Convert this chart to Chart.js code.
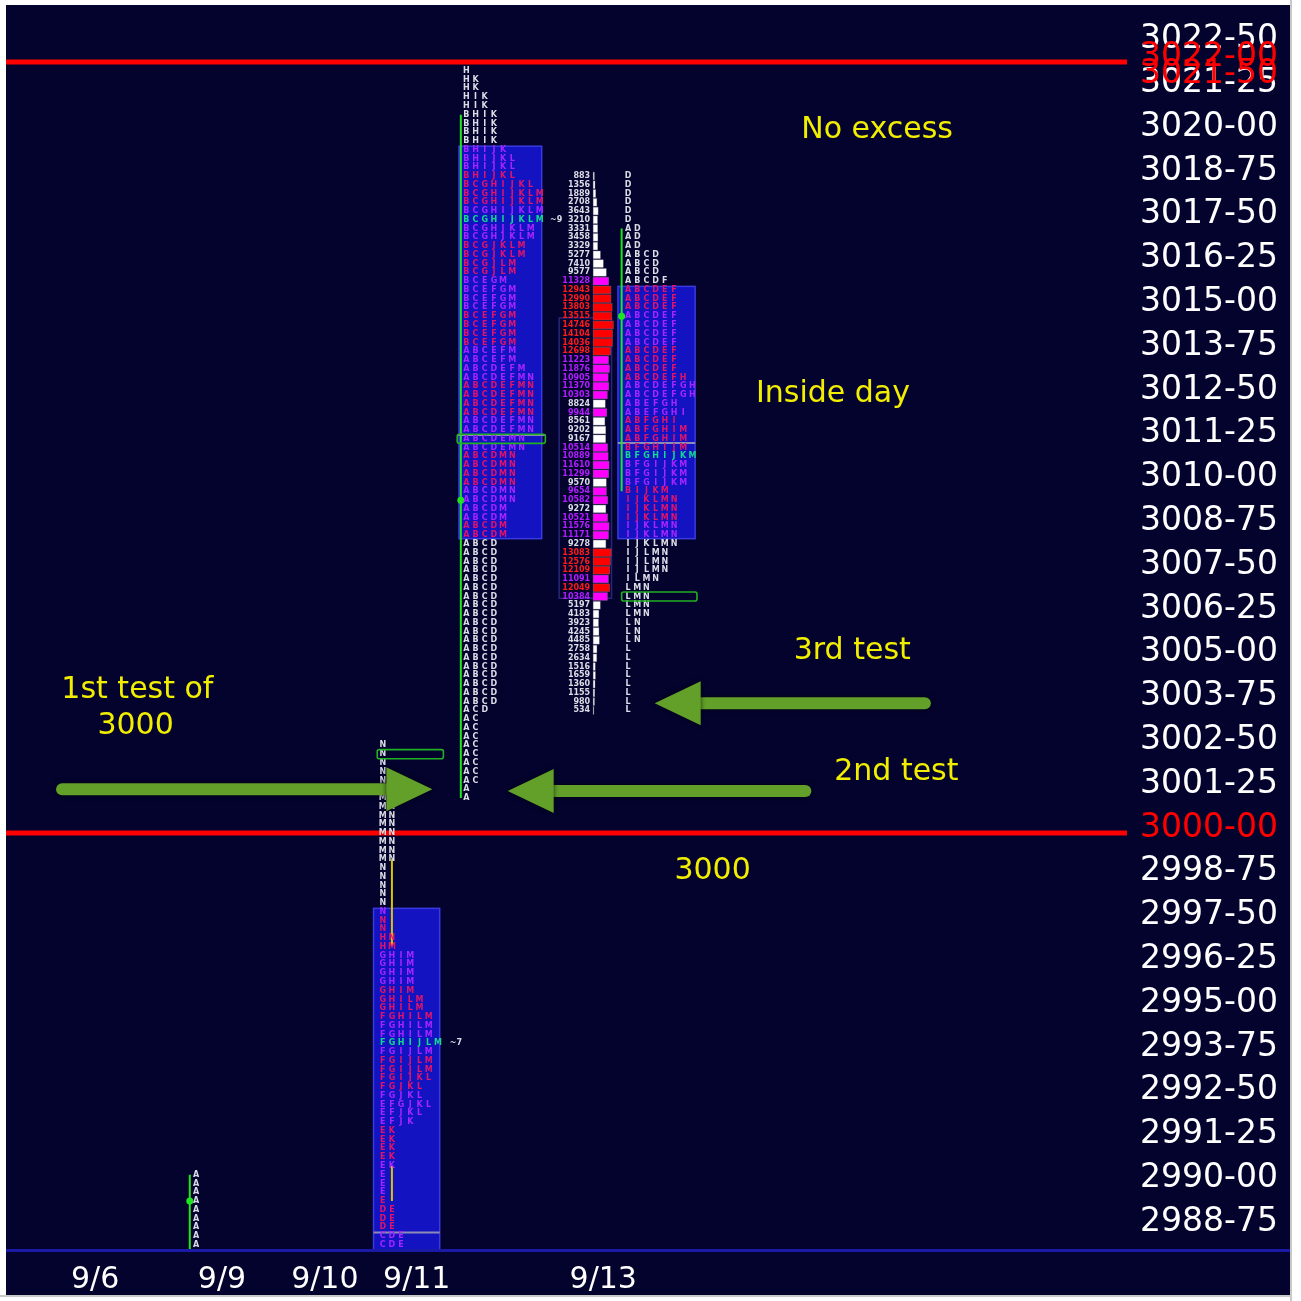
<!DOCTYPE html>
<html lang="en">
<head>
<meta charset="UTF-8">
<title>Market Profile - tests of 3000</title>
<script src="https://cdn.jsdelivr.net/npm/chart.js"></script>
<style>
  body { margin: 0; background: #ffffff; }
  #wrap { position: absolute; left: 6px; top: 5px; width: 1284px; height: 1290px; background: #03032e; }
  #edgeR { position: absolute; left: 1290px; top: 0; width: 2px; height: 1301px; background: #c8c8c8; }
  #edgeB { position: absolute; left: 0; top: 1295px; width: 1292px; height: 2px; background: #c8c8c8; }
</style>
</head>
<body>
<div id="wrap"><canvas id="mp" width="1284" height="1290"></canvas></div>
<div id="edgeR"></div>
<div id="edgeB"></div>
<script>
// axis ranges (x = TPO column units, y = price)
const xMin = 0, xMax = 122;
const yMin = 2988.1, yMax = 3023.63;

const priceTicks = [3022.5, 3021.25, 3020, 3018.75, 3017.5, 3016.25, 3015, 3013.75, 3012.5, 3011.25,
  3010, 3008.75, 3007.5, 3006.25, 3005, 3003.75, 3002.5, 3001.25, 3000, 2998.75, 2997.5, 2996.25,
  2995, 2993.75, 2992.5, 2991.25, 2990, 2988.75];
const extraRedTicks = [3022, 3021.5];
const keyLevels = [3022, 3000];

const dayLabels = ['9/6', '9/9', '9/10', '9/11', '9/13'];
const dayTickPos = [9.7, 23.5, 34.7, 44.7, 65.0];

// TPO rows, top row first, one row per 0.25
const tpoRows0909 = ['A', 'A', 'A', 'A', 'A', 'A', 'A', 'A', 'A'];

const tpoRows0911 = ['N', 'N', 'N', 'N', 'N', 'N', 'M', 'MN', 'MN', 'MN', 'MN', 'MN', 'MN', 'MN',
  'N', 'N', 'N', 'N', 'N', 'N', 'N', 'N', 'HN', 'HM',
  'GHIM', 'GHIM', 'GHIM', 'GHIM', 'GHIM', 'GHILM', 'GHILM', 'FGHILM', 'FGHILM', 'FGHILM',
  'FGHIJLM', 'FGIJLM', 'FGIJLM', 'FGIJLM', 'FGIJKL', 'FGJKL', 'FGJKL', 'EFGJKL', 'EFJKL', 'EFJK',
  'EK', 'EK', 'EK', 'EK', 'EK', 'E', 'E', 'E', 'E', 'DE', 'DE', 'DE', 'CDE', 'CDE'];

const tpoRows0912 = ['H', 'HK', 'HK', 'HIK', 'HIK', 'BHIK', 'BHIK', 'BHIK', 'BHIK',
  'BHIJK', 'BHIJKL', 'BHIJKL', 'BHIJKL', 'BCGHIJKL', 'BCGHIJKLM', 'BCGHIJKLM', 'BCGHIJKLM', 'BCGHIJKLM',
  'BCGHJKLM', 'BCGHJKLM', 'BCGJKLM', 'BCGJKLM', 'BCGJLM', 'BCGJLM', 'BCEGM',
  'BCEFGM', 'BCEFGM', 'BCEFGM', 'BCEFGM', 'BCEFGM', 'BCEFGM', 'BCEFGM',
  'ABCEFM', 'ABCEFM', 'ABCDEFM',
  'ABCDEFMN', 'ABCDEFMN', 'ABCDEFMN', 'ABCDEFMN', 'ABCDEFMN', 'ABCDEFMN', 'ABCDEFMN',
  'ABCDEMN', 'ABCDEMN', 'ABCDMN', 'ABCDMN', 'ABCDMN', 'ABCDMN', 'ABCDMN', 'ABCDMN',
  'ABCDM', 'ABCDM', 'ABCDM', 'ABCDM',
  'ABCD', 'ABCD', 'ABCD', 'ABCD', 'ABCD', 'ABCD', 'ABCD', 'ABCD', 'ABCD', 'ABCD',
  'ABCD', 'ABCD', 'ABCD', 'ABCD', 'ABCD', 'ABCD', 'ABCD', 'ABCD', 'ABCD',
  'ACD', 'AC', 'AC', 'AC', 'AC', 'AC', 'AC', 'AC', 'AC', 'A', 'A'];

const tpoRows0913 = ['D', 'D', 'D', 'D', 'D', 'D', 'AD', 'AD', 'AD', 'ABCD', 'ABCD', 'ABCD', 'ABCDF',
  'ABCDEF', 'ABCDEF', 'ABCDEF', 'ABCDEF', 'ABCDEF', 'ABCDEF', 'ABCDEF', 'ABCDEF', 'ABCDEF', 'ABCDEF',
  'ABCDEFH', 'ABCDEFGH', 'ABCDEFGH', 'ABEFGH', 'ABEFGHI', 'ABFGHI', 'ABFGHIM', 'ABFGHIM',
  'BFGHIJM', 'BFGHIJKM', 'BFGIJKM', 'BFGIJKM', 'BFGIJKM', 'BIJKM',
  'IJKLMN', 'IJKLMN', 'IJKLMN', 'IJKLMN', 'IJKLMN', 'IJKLMN', 'IJLMN', 'IJLMN', 'IJLMN', 'ILMN',
  'LMN', 'LMN', 'LMN', 'LMN', 'LN', 'LN', 'LN', 'L', 'L', 'L', 'L', 'L', 'L', 'L', 'L'];

const volume0913 = [883, 1356, 1889, 2708, 3643, 3210, 3331, 3458, 3329, 5277, 7410, 9577,
  11328, 12943, 12990, 13803, 13515, 14746, 14104, 14036, 12698, 11223, 11876, 10905, 11370, 10303,
  8824, 9944, 8561, 9202, 9167, 10514, 10889, 11610, 11299, 9570, 9654, 10582, 9272, 10521, 11576,
  11171, 9278, 13083, 12576, 12109, 11091, 12049, 10384, 5197, 4183, 3923, 4245, 4485, 2758, 2634,
  1516, 1659, 1360, 1155, 980, 534];
const volumeTop = 3018.75;
const volumeCol = 63.9;

const profileRows = [tpoRows0909, tpoRows0911, tpoRows0912, tpoRows0913];
const profileTop = [2990.25, 3002.5, 3021.75, 3018.75];
const profileCol = [20.7, 41.0, 50.1, 67.7];
const vaHigh = [null, 2997.75, 3019.5, 3015.5];
const vaLow = [null, 2987.75, 3008.5, 3008.5];
const vaLeft = [null, 40.0, 49.3, 66.6];
const vaRight = [null, 47.2, 58.3, 75.0];
const pocPrice = [null, 2994.0, 3017.5, 3010.75];

// initial balance lines and their midpoints
const ibCol = [20.0, 49.5, 67.0];
const ibHigh = [2990.25, 3020.5, 3017.25];
const ibLow = [2988.0, 3001.0, 3009.75];
const ibMid = [2989.5, 3009.5, 3014.75];

// single prints 9/11
const spCol = [42.0, 42.0];
const spHigh = [2999.25, 2990.5];
const spLow = [2996.75, 2989.5];

// highlighted rows, mid lines, counts
const hlLeft = [40.4, 49.1, 67.0];
const hlRight = [47.6, 58.7, 75.2];
const hlPrice = [3002.25, 3011.25, 3006.75];
const midLeft = [40.0, 49.1, 66.6];
const midRight = [47.2, 58.7, 75.0];
const midPrice = [2988.6, 3011.36, 3011.13];
const countText = ['~7', '~9'];
const countCol = [48.3, 59.2];
const countPrice = [2994.0, 3017.5];
const volBoxLeft = 60.2, volBoxRight = 65.9, volBoxHigh = 3014.7, volBoxLow = 3006.7;

// arrows and notes
const arrowFrom = [6.1, 87.0, 100.0];
const arrowTo = [46.4, 54.6, 70.6];
const arrowPrice = [3001.25, 3001.2, 3003.7];
const noteText = ['No excess', 'Inside day', '3rd test', '2nd test', '1st test of', '3000', '3000'];
const noteCol = [94.8, 90.0, 92.1, 96.9, 14.3, 14.1, 76.9];
const notePrice = [3020.15, 3012.6, 3005.28, 3001.83, 3004.17, 3003.14, 2999.0];

const FONT = '"DejaVu Sans", Verdana, sans-serif';

function fmtPrice(v) {
  const whole = Math.floor(v + 1e-6);
  const frac = Math.round((v - whole) * 100);
  return whole + '-' + String(frac).padStart(2, '0');
}

function letterColor(p, i, price) {
  if (pocPrice[p] !== null && Math.abs(price - pocPrice[p]) < 0.01) return '#12d890';
  if (vaHigh[p] !== null && price <= vaHigh[p] + 0.01 && price >= vaLow[p] - 0.01) {
    return Math.floor(i / 4) % 2 ? '#e0146a' : '#a524ff';
  }
  return '#dcdce6';
}

function volColor(v) {
  if (v >= 12000) return '#ff0000';
  if (v >= 9600) return '#ff00ff';
  return '#ffffff';
}

const profilePlugin = {
  id: 'profiles',
  beforeDatasetsDraw(chart) {
    const { ctx, chartArea: a, scales: { x, y } } = chart;
    ctx.save();
    ctx.beginPath(); ctx.rect(a.left, a.top, a.right - a.left, a.bottom - a.top); ctx.clip();
    // value areas
    for (let p = 0; p < profileRows.length; p++) {
      if (vaHigh[p] === null) continue;
      const x0 = x.getPixelForValue(vaLeft[p]), x1 = x.getPixelForValue(vaRight[p]);
      const y0 = y.getPixelForValue(vaHigh[p] + 0.1), y1 = y.getPixelForValue(vaLow[p] - 0.1);
      ctx.fillStyle = '#1313c2';
      ctx.fillRect(x0, y0, x1 - x0, y1 - y0);
      ctx.strokeStyle = '#3a3ae0';
      ctx.lineWidth = 1.5;
      ctx.strokeRect(x0, y0, x1 - x0, y1 - y0);
    }
    // volume box outline
    const bx0 = x.getPixelForValue(volBoxLeft), bx1 = x.getPixelForValue(volBoxRight);
    const by0 = y.getPixelForValue(volBoxHigh), by1 = y.getPixelForValue(volBoxLow);
    ctx.strokeStyle = '#26267a';
    ctx.lineWidth = 1.5;
    ctx.strokeRect(bx0, by0, bx1 - bx0, by1 - by0);
    // mid lines
    ctx.strokeStyle = '#8c8cb4';
    ctx.lineWidth = 2;
    midPrice.forEach((pr, i) => {
      const yy = y.getPixelForValue(pr);
      ctx.beginPath();
      ctx.moveTo(x.getPixelForValue(midLeft[i]), yy);
      ctx.lineTo(x.getPixelForValue(midRight[i]), yy);
      ctx.stroke();
    });
    ctx.restore();
  },
  afterDatasetsDraw(chart) {
    const { ctx, chartArea: a, scales: { x, y } } = chart;
    ctx.save();
    ctx.beginPath(); ctx.rect(a.left, a.top, a.right - a.left, a.bottom - a.top); ctx.clip();

    // TPO letters
    ctx.font = 'bold 8px ' + FONT;
    ctx.textAlign = 'center';
    ctx.textBaseline = 'middle';
    profileRows.forEach((rows, p) => {
      rows.forEach((row, i) => {
        const price = profileTop[p] - 0.25 * i;
        const yy = y.getPixelForValue(price);
        ctx.fillStyle = letterColor(p, i, price);
        for (let j = 0; j < row.length; j++) {
          ctx.fillText(row[j], x.getPixelForValue(profileCol[p] + j), yy);
        }
      });
    });

    // volume profile 9/13
    const base = x.getPixelForValue(volumeCol);
    const unit = x.getPixelForValue(volumeCol + 2.2) - base;
    volume0913.forEach((v, i) => {
      const price = volumeTop - 0.25 * i;
      const yTop = y.getPixelForValue(price + 0.11), yBot = y.getPixelForValue(price - 0.11);
      const col = volColor(v);
      ctx.fillStyle = col;
      ctx.fillRect(base, yTop, unit * v / 14746, yBot - yTop);
      ctx.strokeStyle = 'rgba(120,120,140,0.6)';
      ctx.lineWidth = 0.6;
      ctx.strokeRect(base, yTop, unit * v / 14746, yBot - yTop);
      ctx.textAlign = 'right';
      ctx.fillStyle = col === '#ffffff' ? '#dcdce6' : (col === '#ff0000' ? '#ff1a1a' : '#b21cff');
      ctx.fillText(String(v), base - 3, y.getPixelForValue(price));
    });

    // highlighted rows
    ctx.strokeStyle = '#22b022';
    ctx.lineWidth = 1.6;
    hlPrice.forEach((pr, i) => {
      const x0 = x.getPixelForValue(hlLeft[i]), x1 = x.getPixelForValue(hlRight[i]);
      const y0 = y.getPixelForValue(pr + 0.13), y1 = y.getPixelForValue(pr - 0.13);
      ctx.beginPath();
      ctx.roundRect(x0, y0, x1 - x0, y1 - y0, 2);
      ctx.stroke();
    });

    // counts
    ctx.fillStyle = '#dcdce6';
    ctx.textAlign = 'left';
    countText.forEach((t, i) => {
      ctx.fillText(t, x.getPixelForValue(countCol[i]), y.getPixelForValue(countPrice[i]));
    });

    // arrows
    ctx.fillStyle = '#62a02a';
    ctx.strokeStyle = '#62a02a';
    ctx.shadowColor = 'rgba(0,0,0,0.7)';
    ctx.shadowBlur = 5;
    arrowFrom.forEach((f, i) => {
      const xs = x.getPixelForValue(f), xe = x.getPixelForValue(arrowTo[i]);
      const yy = y.getPixelForValue(arrowPrice[i]);
      const dir = Math.sign(xe - xs);
      const headLen = 46, headHalf = 22;
      ctx.lineWidth = 12;
      ctx.lineCap = 'round';
      ctx.beginPath();
      ctx.moveTo(xs, yy);
      ctx.lineTo(xe - dir * (headLen - 4), yy);
      ctx.stroke();
      ctx.beginPath();
      ctx.moveTo(xe, yy);
      ctx.lineTo(xe - dir * headLen, yy - headHalf);
      ctx.lineTo(xe - dir * headLen, yy + headHalf);
      ctx.closePath();
      ctx.fill();
    });
    ctx.shadowBlur = 0;

    // notes
    ctx.font = '30px ' + FONT;
    ctx.fillStyle = '#f2ee00';
    ctx.textAlign = 'center';
    noteText.forEach((t, i) => {
      ctx.fillText(t, x.getPixelForValue(noteCol[i]), y.getPixelForValue(notePrice[i]) + 3);
    });
    ctx.restore();

    // bottom band
    ctx.save();
    ctx.fillStyle = '#1a1aa6';
    ctx.fillRect(0, a.bottom - 1, chart.width, 3);
    ctx.restore();
  }
};

const datasets = [];
keyLevels.forEach(l => datasets.push({
  type: 'line', data: [{ x: xMin, y: l }, { x: xMax, y: l }],
  borderColor: '#ff0000', borderWidth: 5, pointRadius: 0
}));
ibCol.forEach((c, i) => datasets.push({
  type: 'line', data: [{ x: c, y: ibHigh[i] }, { x: c, y: ibLow[i] }],
  borderColor: '#1ee61e', borderWidth: 2, pointRadius: 0
}));
spCol.forEach((c, i) => datasets.push({
  type: 'line', data: [{ x: c, y: spHigh[i] }, { x: c, y: spLow[i] }],
  borderColor: '#d8c400', borderWidth: 2, pointRadius: 0
}));
datasets.push({
  type: 'scatter', data: ibCol.map((c, i) => ({ x: c, y: ibMid[i] })),
  pointRadius: 3.5, backgroundColor: '#1ee61e', borderWidth: 0
});

new Chart(document.getElementById('mp'), {
  type: 'scatter',
  data: { datasets: datasets },
  plugins: [profilePlugin],
  options: {
    responsive: false,
    animation: false,
    events: [],
    layout: { padding: 0, autoPadding: false },
    plugins: { legend: { display: false }, tooltip: { enabled: false } },
    scales: {
      x: {
        type: 'linear', min: xMin, max: xMax,
        grid: { display: false, drawTicks: false },
        border: { display: false },
        afterBuildTicks: s => { s.ticks = dayTickPos.map(v => ({ value: v })); },
        afterFit: s => { s.height = 45; s.paddingLeft = 0; s.paddingRight = 0; },
        ticks: {
          autoSkip: false, maxRotation: 0, padding: 12,
          color: '#ffffff', font: { family: FONT, size: 30 },
          callback: (v, i) => dayLabels[i]
        }
      },
      y: {
        type: 'linear', position: 'right', min: yMin, max: yMax,
        grid: { display: false, drawTicks: false },
        border: { display: false },
        afterBuildTicks: s => { s.ticks = priceTicks.concat(extraRedTicks).map(v => ({ value: v })); },
        afterFit: s => { s.width = 163; s.paddingTop = 0; s.paddingBottom = 0; },
        ticks: {
          autoSkip: false, padding: 13, labelOffset: -5,
          font: { family: FONT, size: 33 },
          color: c => (extraRedTicks.includes(c.tick.value) || keyLevels.includes(c.tick.value)) ? '#ff0000' : '#ffffff',
          callback: v => fmtPrice(v)
        }
      }
    }
  }
});
</script>
</body>
</html>
